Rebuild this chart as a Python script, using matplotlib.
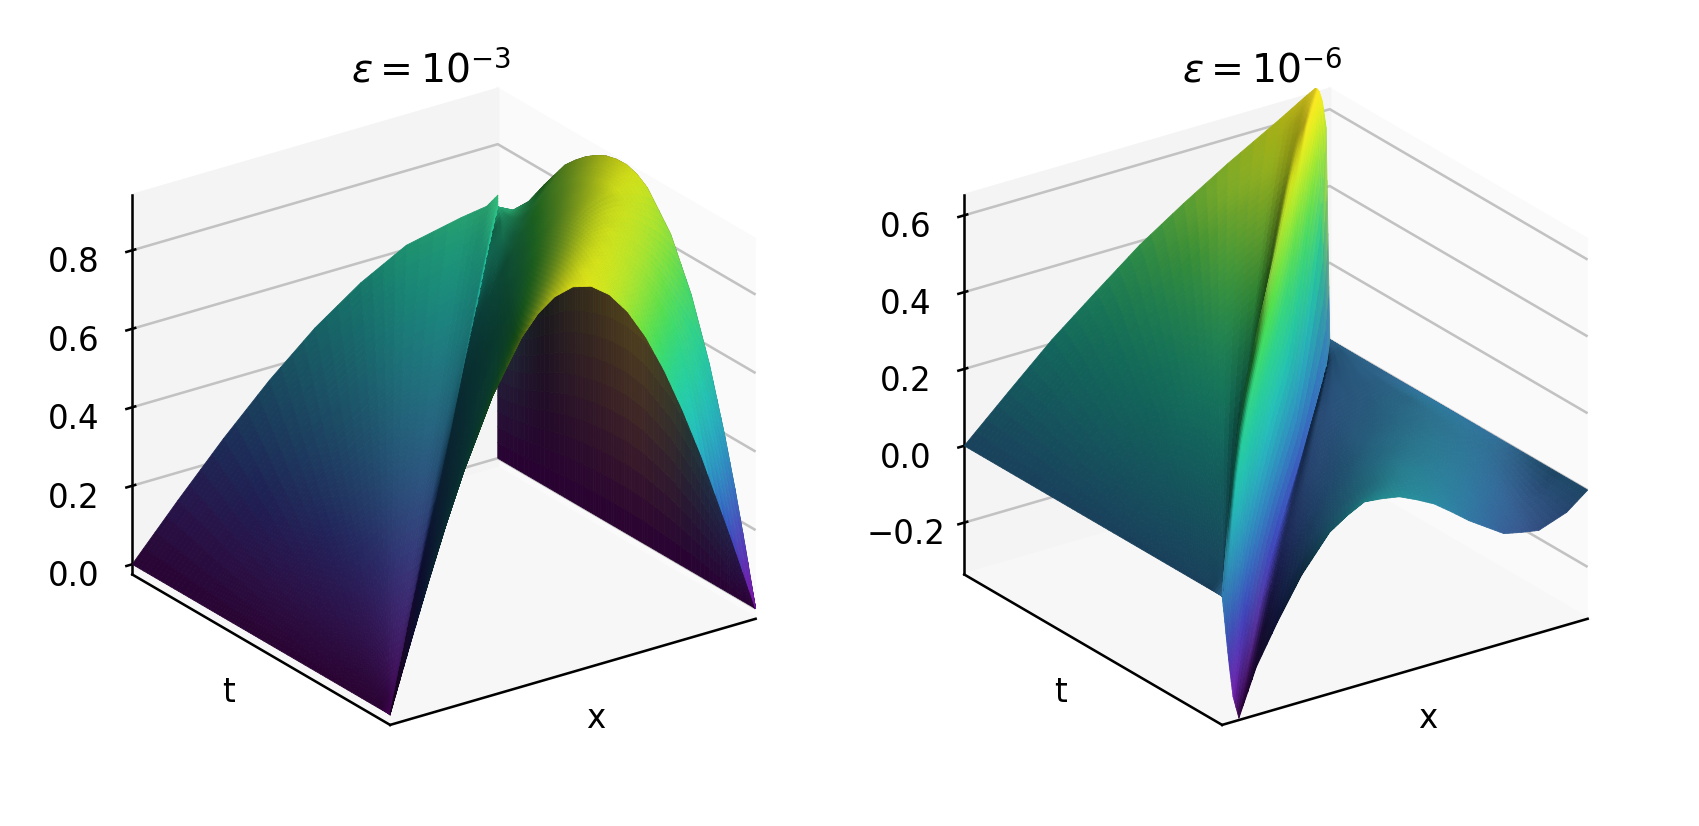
import numpy as np
import matplotlib
matplotlib.use('Agg')
import matplotlib.pyplot as plt
from matplotlib.colors import LightSource, Normalize

# t rows of each surface
t_vals_a = [0, .04, .08, .12, .18, .25, .33, .42, .46, .5, .54, .58, .62, .66, .7, .74, .82, .88, .94, 1]
t_vals_b = [0, .04, .08, .12, .18, .25, .33, .42, .5, .58, .66, .74, .82, .88, .94, 1]

# mesh columns follow the crease: fractions left of it, offsets in it, fractions right of it
left_frac = [0, .125, .25, .375, .5, .625, .75, .9, .97, 1]
bulk_frac_a = [.015, .03, .06, .1, .15, .2, .28, .36, .405, .45, .5, .55, .6, .65, .7, .75, .8, .85, .93, 1]
layer_off_b = [.006, .012, .02, .03, .046]
bulk_frac_b = [.05, .11, .18, .22, .26, .31, .36, .41, .46, .51, .56, .61, .66, .71, .76, .81, .86, .94, 1]

# surface heights, eps = 1e-3
z_a = [
    [0, 0, 0, 0, 0, 0, 0, 0, 0, 0, .045, .090, .179, .295, .434, .562, .736, .864, .913, .943, .955, .943, .908, .851, .773, .675, .561, .434, .208, 0],
    [0, .005, .010, .014, .018, .022, .024, .025, .026, .027, .067, .109, .192, .300, .428, .548, .714, .841, .891, .926, .945, .943, .920, .878, .816, .736, .639, .529, .330, .141],
    [0, .010, .020, .029, .037, .044, .049, .051, .052, .055, .091, .130, .206, .306, .426, .538, .696, .818, .871, .909, .934, .941, .929, .899, .852, .787, .708, .614, .443, .274],
    [0, .015, .030, .044, .056, .066, .073, .077, .078, .081, .114, .150, .221, .313, .425, .529, .679, .799, .851, .892, .922, .936, .934, .916, .880, .831, .766, .689, .542, .395],
    [0, .023, .046, .066, .084, .099, .110, .115, .117, .123, .151, .182, .244, .326, .426, .519, .656, .769, .821, .864, .900, .922, .932, .928, .910, .879, .836, .781, .670, .555],
    [0, .032, .063, .092, .117, .137, .152, .160, .163, .170, .192, .219, .273, .344, .429, .511, .633, .737, .788, .830, .870, .899, .919, .927, .926, .914, .891, .858, .786, .704],
    [0, .043, .083, .121, .154, .181, .201, .211, .215, .225, .241, .263, .307, .365, .438, .508, .612, .705, .752, .794, .834, .867, .894, .913, .923, .927, .923, .910, .875, .828],
    [0, .054, .106, .154, .196, .230, .256, .269, .273, .285, .295, .313, .348, .395, .454, .510, .596, .676, .717, .755, .794, .828, .858, .883, .903, .917, .927, .931, .926, .911],
    [0, .059, .116, .169, .215, .253, .281, .295, .299, .313, .320, .336, .368, .411, .462, .514, .592, .666, .704, .740, .777, .811, .841, .867, .889, .907, .921, .930, .935, .930],
    [0, .064, .126, .183, .233, .274, .305, .320, .325, .340, .345, .359, .387, .425, .473, .518, .589, .656, .692, .725, .761, .793, .823, .849, .873, .893, .909, .922, .935, .939],
    [0, .069, .136, .198, .252, .296, .329, .345, .351, .367, .369, .381, .407, .441, .482, .523, .587, .648, .680, .711, .744, .775, .803, .830, .854, .875, .893, .909, .928, .938],
    [0, .075, .147, .213, .271, .318, .354, .372, .377, .394, .394, .406, .428, .458, .495, .531, .587, .642, .671, .700, .730, .758, .785, .811, .834, .856, .875, .893, .916, .931],
    [0, .080, .157, .227, .289, .340, .378, .397, .403, .421, .419, .429, .448, .474, .506, .538, .588, .637, .663, .689, .716, .743, .768, .791, .814, .835, .855, .873, .898, .917],
    [0, .085, .167, .242, .308, .362, .403, .423, .429, .449, .444, .453, .470, .492, .520, .548, .591, .634, .657, .679, .704, .728, .751, .773, .794, .814, .833, .851, .878, .898],
    [0, .090, .177, .257, .327, .384, .427, .448, .455, .476, .469, .476, .491, .510, .534, .557, .595, .631, .652, .671, .693, .714, .734, .755, .774, .793, .810, .827, .853, .874],
    [0, .095, .187, .271, .345, .406, .451, .473, .481, .503, .494, .500, .512, .528, .548, .568, .599, .630, .648, .665, .683, .701, .719, .736, .754, .770, .787, .802, .826, .846],
    [0, .105, .207, .301, .382, .450, .500, .525, .533, .557, .545, .547, .553, .561, .572, .583, .600, .617, .627, .637, .648, .660, .671, .682, .693, .705, .716, .727, .746, .765],
    [0, .113, .223, .323, .411, .483, .537, .564, .572, .598, .583, .585, .588, .593, .599, .605, .615, .625, .630, .635, .641, .647, .653, .659, .665, .671, .676, .682, .691, .700],
    [0, .121, .237, .345, .438, .515, .573, .601, .611, .639, .612, .613, .615, .618, .621, .625, .630, .635, .638, .640, .642, .644, .646, .648, .650, .651, .652, .653, .654, .655],
    [0, .129, .253, .367, .467, .548, .610, .640, .650, .670, .640, .640, .640, .640, .640, .640, .640, .640, .640, .640, .640, .640, .640, .640, .640, .640, .640, .640, .640, .640],
]

# surface heights, eps = 1e-6
z_b = [
    [0, 0, 0, 0, 0, 0, 0, 0, 0, 0, -.055, -.115, -.190, -.270, -.330, -.210, -.110, -.005, .040, .085, .115, .138, .133, .125, .104, .080, .046, .010, -.020, -.050, -.060, -.068, -.042, 0],
    [0, .005, .009, .014, .018, .022, .026, .031, .060, .090, .051, -.019, -.113, -.214, -.300, -.195, -.107, -.014, .028, .066, .095, .119, .120, .115, .100, .081, .056, .027, 0, -.027, -.043, -.054, -.040, 0],
    [0, .009, .017, .026, .035, .044, .052, .062, .125, .190, .144, .061, -.049, -.169, -.270, -.180, -.102, -.020, .017, .051, .078, .101, .106, .106, .096, .082, .063, .041, .015, -.012, -.030, -.045, -.035, 0],
    [0, .013, .026, .039, .052, .065, .078, .093, .175, .260, .210, .119, -.003, -.134, -.245, -.167, -.096, -.026, .006, .037, .062, .082, .093, .099, .092, .082, .066, .048, .026, .002, -.018, -.037, -.040, 0],
    [0, .020, .039, .059, .078, .098, .117, .140, .235, .330, .276, .179, .049, -.091, -.210, -.150, -.089, -.032, -.006, .019, .043, .064, .078, .088, .086, .080, .069, .057, .040, .022, .004, -.013, -.028, 0],
    [0, .027, .054, .081, .108, .135, .162, .195, .285, .380, .325, .225, .091, -.053, -.175, -.128, -.083, -.035, -.013, .008, .029, .048, .061, .070, .072, .070, .066, .059, .050, .040, .026, .011, -.008, 0],
    [0, .036, .071, .107, .143, .177, .210, .250, .335, .420, .364, .262, .126, -.021, -.145, -.110, -.074, -.042, -.024, -.007, .011, .028, .040, .048, .055, .059, .059, .057, .052, .046, .039, .031, .013, 0],
    [0, .045, .090, .136, .180, .223, .265, .310, .385, .460, .402, .296, .156, .004, -.125, -.091, -.065, -.042, -.030, -.018, -.003, .011, .023, .032, .038, .042, .045, .047, .047, .046, .043, .039, .020, 0],
    [0, .054, .108, .162, .215, .263, .310, .365, .430, .490, .430, .321, .177, .020, -.112, -.078, -.057, -.042, -.033, -.023, -.012, -.001, .007, .014, .021, .027, .032, .036, .038, .039, .038, .037, .020, 0],
    [0, .063, .125, .188, .250, .306, .360, .415, .470, .520, .458, .345, .195, .033, -.105, -.066, -.052, -.040, -.034, -.027, -.019, -.011, -.005, .001, .007, .013, .018, .022, .025, .027, .030, .032, .016, 0],
    [0, .070, .140, .211, .280, .344, .405, .460, .515, .560, .495, .377, .219, .049, -.095, -.056, -.046, -.037, -.033, -.028, -.023, -.018, -.013, -.008, -.004, 0, .005, .009, .012, .015, .017, .019, .010, 0],
    [0, .080, .160, .238, .315, .384, .450, .505, .555, .600, .550, .450, .300, .110, -.080, -.047, -.042, -.035, -.032, -.029, -.026, -.022, -.019, -.016, -.012, -.009, -.006, -.003, 0, .002, .004, .006, .004, 0],
    [0, .088, .175, .261, .345, .419, .490, .550, .590, .630, .600, .520, .390, .190, -.065, -.042, -.036, -.030, -.027, -.025, -.022, -.020, -.017, -.015, -.012, -.010, -.008, -.006, -.004, -.003, -.002, -.001, 0, 0],
    [0, .095, .190, .281, .370, .446, .520, .570, .615, .650, .640, .580, .460, .260, -.050, -.036, -.031, -.027, -.024, -.022, -.020, -.018, -.015, -.013, -.011, -.009, -.007, -.006, -.004, -.003, -.002, -.001, 0, 0],
    [0, .101, .200, .293, .385, .460, .530, .590, .635, .665, .650, .610, .520, .330, -.030, -.024, -.020, -.017, -.015, -.014, -.012, -.011, -.009, -.008, -.007, -.006, -.005, -.004, -.003, -.002, -.001, -.001, 0, 0],
    [0, .106, .210, .301, .390, .465, .535, .612, .650, .665, .662, .652, .625, .555, 0, 0, 0, 0, 0, 0, 0, 0, 0, 0, 0, 0, 0, 0, 0, 0, 0, 0, 0, 0],
]

z_ticks_a = [0, .2, .4, .6, .8]
z_ticks_b = [-.2, 0, .2, .4, .6]
zlim_a = (-.026, .94)
zlim_b = (-.335, .652)

W, H = 1699, 826
plt.rcParams['grid.color'] = '#c2c2c2'
ls = LightSource(azdeg=90, altdeg=29)
cmap = plt.get_cmap('viridis')


def build_mesh(t_vals, crest_slope, layer_off, bulk_frac):
    rows = []
    for t in t_vals:
        c = crest_slope * t
        edge = min(c + (layer_off[-1] if layer_off else 0), 1)
        row = [c * f for f in left_frac]
        row += [min(c + d, 1) for d in layer_off]
        row += [edge + (1 - edge) * g for g in bulk_frac]
        rows.append(row)
    X = np.array(rows)
    Y = np.tile(np.array(t_vals)[:, None], (1, X.shape[1]))
    return X, Y


def shaded_colors(X, Y, Z, norm, exag, bright):
    # normals from the real mesh because the columns are not evenly spaced
    du = np.stack([np.gradient(X, axis=0), np.gradient(Y, axis=0), np.gradient(Z * exag, axis=0)], axis=-1)
    dv = np.stack([np.gradient(X, axis=1), np.gradient(Y, axis=1), np.gradient(Z * exag, axis=1)], axis=-1)
    n = np.cross(dv, du)
    n[n[..., 2] < 0] *= -1
    size = np.linalg.norm(n, axis=-1, keepdims=True)
    n = np.where(size > 1e-12, n / np.maximum(size, 1e-12), [0, 0, 1])
    intensity = np.clip(n @ ls.direction, .17, bright)
    rgb = cmap(norm(Z))[..., :3]
    return ls.blend_hsv(rgb, intensity[..., None], hsv_max_sat=.85, hsv_min_sat=.85,
                        hsv_max_val=1, hsv_min_val=0)


def split_cells(A, n=4):
    # gouraud style: each table cell is cut up so its colour can run smoothly from corner to corner
    for axis in (0, 1):
        size = A.shape[axis]
        pos = np.linspace(0, size - 1, (size - 1) * n + 1)
        i0 = np.minimum(pos.astype(int), size - 2)
        f = pos - i0
        shape = [1] * A.ndim
        shape[axis] = -1
        f = f.reshape(shape)
        A = np.take(A, i0, axis=axis) * (1 - f) + np.take(A, i0 + 1, axis=axis) * f
    return A


def cell_colors(rgb):
    return (rgb[:-1, :-1] + rgb[1:, :-1] + rgb[:-1, 1:] + rgb[1:, 1:]) / 4


def draw_surface(ax, X, Y, Z, rgb):
    ax.plot_surface(split_cells(X), split_cells(Y), split_cells(Z),
                    facecolors=cell_colors(split_cells(rgb)), rstride=1, cstride=1,
                    shade=False, linewidth=.25, antialiased=True)


def draw_panel(ax, Z, X, Y, zlim, z_ticks, wall, exag, bright, vmax):
    Z = np.array(Z)
    norm = Normalize(Z.min(), vmax)
    rgb = shaded_colors(X, Y, Z, norm, exag, bright)

    if wall:
        # seen under the arch: the drop at x = 1, colour running straight from base to rim
        steps = np.array([0, 1, 2, 3, 4]) / 4
        steps = steps[None, :]
        wall_z = Z[:, -1:] * steps
        wall_x = np.ones_like(wall_z)
        wall_y = np.tile(Y[:, :1], (1, steps.size))
        base = np.array(cmap(norm(0))[:3]) * .6
        wall_rgb = base[None, None, :] * (1 - steps[..., None]) + .5 * rgb[:, -1:, :] * steps[..., None]
        draw_surface(ax, wall_x, wall_y, wall_z, wall_rgb)

    draw_surface(ax, X, Y, Z, rgb)

    ax.set_xlim(0, 1)
    ax.set_ylim(0, 1)
    ax.set_zlim(*zlim)
    ax.set_xticks([])
    ax.set_yticks([])
    ax.set_zticks(z_ticks)
    ax.tick_params(axis='z', pad=3.2, labelsize=10.2)
    ax.set_xlabel('x', labelpad=-10.4, fontsize=10.2)
    ax.set_ylabel('t', labelpad=-10.4, fontsize=10.2)
    ax.xaxis.set_pane_color((.98, .98, .98, 1))
    ax.yaxis.set_pane_color((.955, .955, .955, 1))
    ax.zaxis.set_pane_color((.968, .968, .968, 1))


fig = plt.figure(figsize=(W / 230, H / 230), dpi=230, facecolor='white')

X_a, Y_a = build_mesh(t_vals_a, 1, [], bulk_frac_a)
X_b, Y_b = build_mesh(t_vals_b, .96, layer_off_b, bulk_frac_b)

for left_px, Z, X, Y, zlim, ticks, wall, exag, bright, vmax, title, title_x in [
    (66.5, z_a, X_a, Y_a, zlim_a, z_ticks_a, True, .2, .9, 1.0, r'$\varepsilon = 10^{-3}$', 431),
    (898.5, z_b, X_b, Y_b, zlim_b, z_ticks_b, False, .2, .72, .665, r'$\varepsilon = 10^{-6}$', 1262),
]:
    ax = fig.add_axes([left_px / W, 41.5 / H, 735 / W, 735 / H], projection='3d',
                      proj_type='ortho', computed_zorder=False)
    ax.view_init(elev=24.3, azim=-125.2)
    ax.set_box_aspect((1, 1, .93))
    ax.patch.set_alpha(0)
    draw_panel(ax, Z, X, Y, zlim, ticks, wall, exag, bright, vmax)
    fig.text(title_x / W, 1 - 71 / H, title, ha='center', va='center', fontsize=12.3)

fig.savefig('out.png', dpi=230)
